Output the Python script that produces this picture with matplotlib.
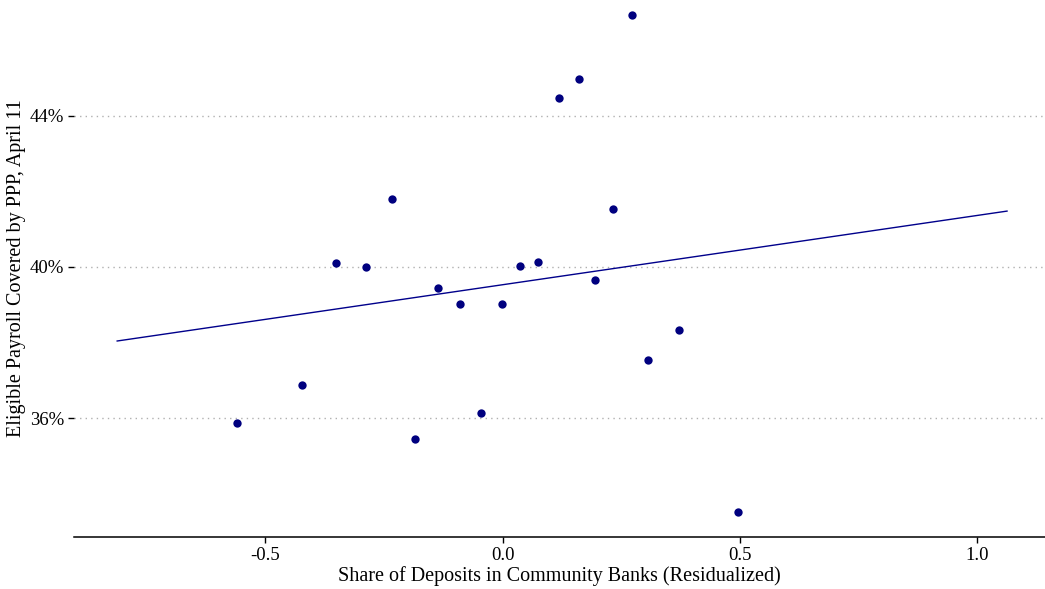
import matplotlib.pyplot as plt
from matplotlib.ticker import FuncFormatter

# residualized share of deposits in community banks (x) vs covered payroll share, % (y)
share_x = [-0.559, -0.422, -0.350, -0.287, -0.232, -0.184, -0.137, -0.089, -0.046, -0.002,
           0.036, 0.074, 0.118, 0.162, 0.194, 0.232, 0.272, 0.306, 0.371, 0.496]
payroll_y = [35.87, 36.87, 40.11, 40.00, 41.80, 35.44, 39.44, 39.02, 36.13, 39.02,
             40.03, 40.13, 44.48, 44.98, 39.66, 41.54, 46.68, 37.54, 38.33, 33.51]

# fitted line endpoints
fit_x = [-0.812, 1.063]
fit_y = [38.04, 41.48]

x_ticks = [-0.5, 0.0, 0.5, 1.0]
y_ticks = [36, 40, 44]

plt.rcParams['font.family'] = ['Liberation Serif', 'DejaVu Serif']

fig = plt.figure(figsize=(10.45, 5.89), dpi=100)
ax = fig.add_axes([0.0708, 0.0883, 0.9292, 0.9117])

ax.plot(fit_x, fit_y, color='#00008B', lw=1.0, zorder=2)
ax.scatter(share_x, payroll_y, s=36, color='#00007F', zorder=3, linewidths=0)

ax.set_xlim(-0.903, 1.143)
ax.set_ylim(32.85, 47.07)
ax.set_xticks(x_ticks)
ax.set_xticklabels(['-0.5', '0.0', '0.5', '1.0'])
ax.set_yticks(y_ticks)
ax.yaxis.set_major_formatter(FuncFormatter(lambda v, p: f'{v:.0f}%'))

ax.grid(axis='y', linestyle=(0, (1, 3)), color='#b0b0b0', lw=1.0)
ax.set_axisbelow(True)

for s in ['top', 'right', 'left']:
    ax.spines[s].set_visible(False)
ax.spines['bottom'].set_linewidth(1.1)

ax.tick_params(axis='both', labelsize=13.5, colors='black', length=4, width=1.0)
ax.tick_params(axis='y', pad=3)

ax.set_xlabel('Share of Deposits in Community Banks (Residualized)', fontsize=14.5, labelpad=1)
ax.set_ylabel('Eligible Payroll Covered by PPP, April 11', fontsize=14.5, labelpad=3)

fig.savefig('out.png', dpi=100)
